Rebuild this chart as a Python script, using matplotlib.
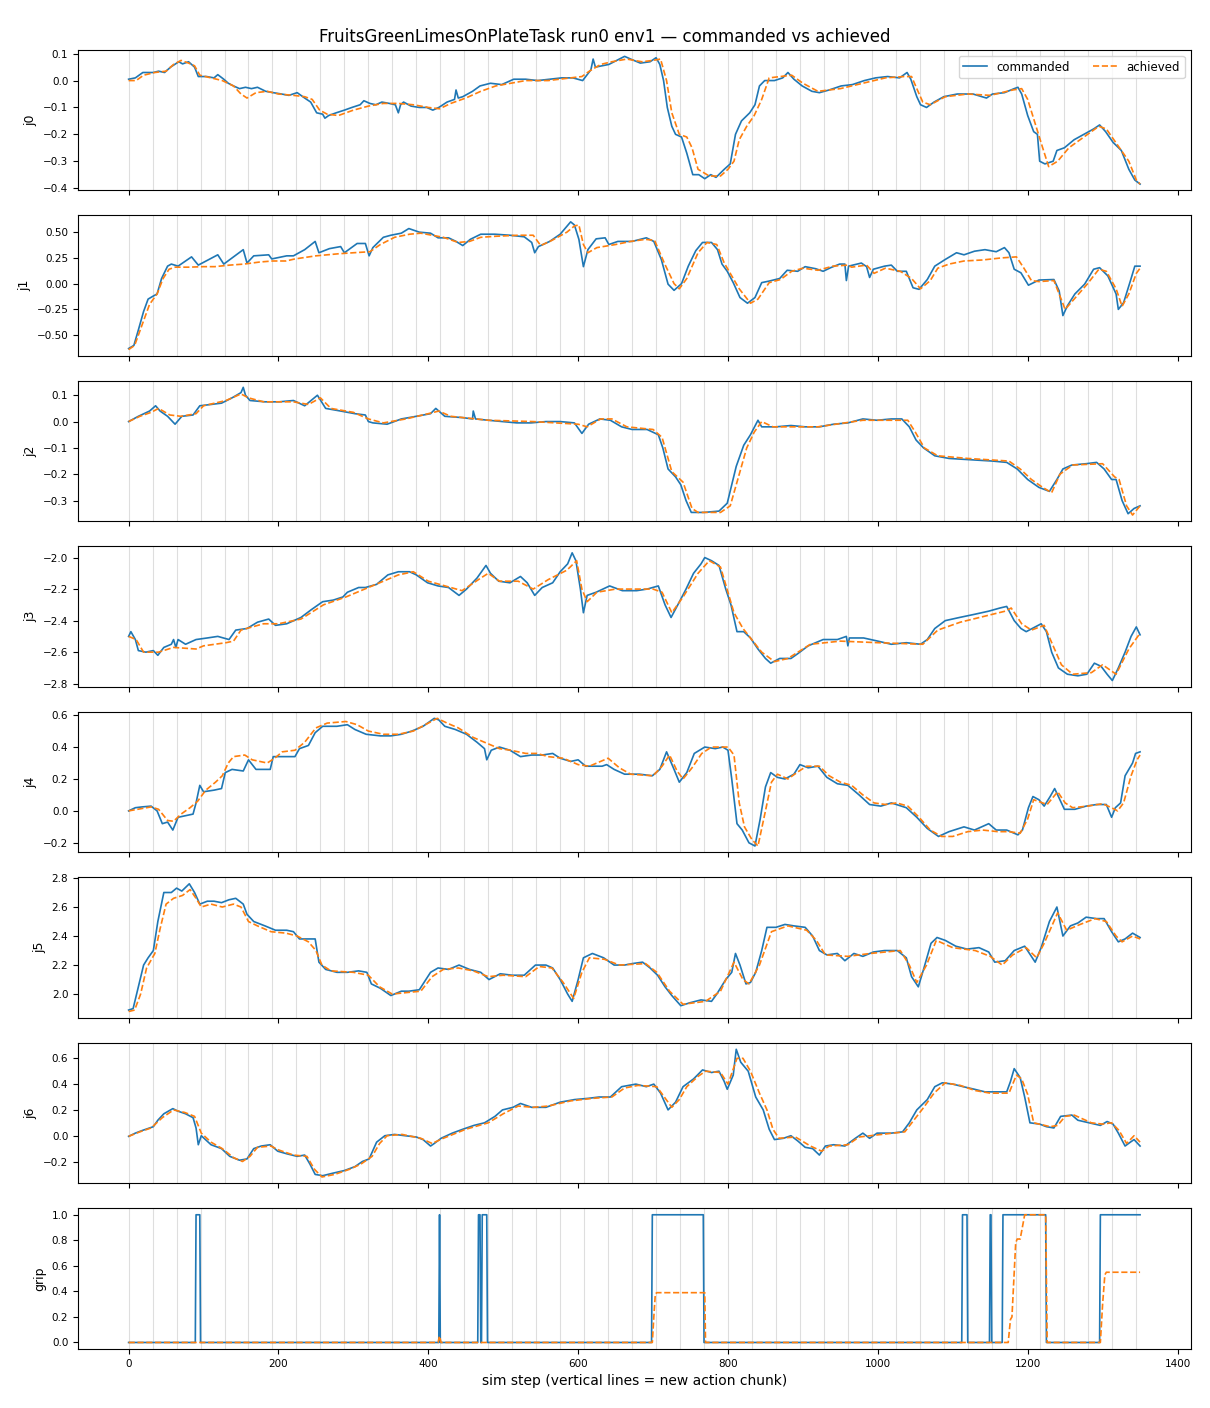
import matplotlib
matplotlib.use('Agg')
import matplotlib.pyplot as plt

# chunk boundaries every 32 sim steps
chunk = 32
n_steps = 1350

# (step, value) keypoints
j0_cmd = [(0, 0.005), (9, 0.01), (19, 0.03), (33, 0.03), (40, 0.035), (48, 0.03), (56, 0.05), (67, 0.07), (72, 0.062),
          (80, 0.07), (88, 0.05), (93, 0.015), (104, 0.015), (114, 0.01), (119, 0.022), (127, 0.005), (133, -0.01),
          (140, -0.02), (148, -0.03), (156, -0.025), (164, -0.03), (172, -0.025), (183, -0.04), (193, -0.045),
          (204, -0.05), (214, -0.055), (225, -0.045), (235, -0.065), (243, -0.08), (251, -0.12), (259, -0.125),
          (262, -0.14), (267, -0.13), (277, -0.12), (288, -0.11), (298, -0.1), (309, -0.09), (314, -0.075),
          (322, -0.085), (330, -0.09), (338, -0.08), (348, -0.085), (356, -0.09), (360, -0.12), (363, -0.09),
          (367, -0.08), (377, -0.095), (388, -0.1), (398, -0.1), (406, -0.11), (414, -0.1), (425, -0.08),
          (435, -0.07), (437, -0.035), (440, -0.065), (446, -0.06), (459, -0.04), (469, -0.02), (483, -0.01),
          (498, -0.015), (514, 0.005), (530, 0.005), (546, 0.0), (562, 0.005), (578, 0.01), (593, 0.01), (606, 0.0),
          (617, 0.04), (620, 0.08), (623, 0.05), (641, 0.06), (662, 0.09), (670, 0.08), (683, 0.065), (696, 0.07),
          (704, 0.085), (709, 0.06), (714, 0.0), (719, -0.1), (725, -0.17), (730, -0.2), (738, -0.21), (745, -0.27),
          (753, -0.35), (761, -0.35), (769, -0.365), (777, -0.35), (784, -0.36), (795, -0.33), (803, -0.31),
          (810, -0.2), (818, -0.15), (829, -0.12), (836, -0.09), (842, -0.02), (849, 0.0), (862, 0.0), (873, 0.01),
          (880, 0.03), (888, 0.005), (899, -0.02), (912, -0.04), (922, -0.045), (935, -0.035), (951, -0.02),
          (966, -0.015), (982, 0.0), (997, 0.01), (1013, 0.015), (1029, 0.01), (1039, 0.03), (1044, 0.005),
          (1052, -0.06), (1057, -0.09), (1065, -0.1), (1075, -0.08), (1088, -0.06), (1106, -0.05), (1127, -0.05),
          (1145, -0.065), (1153, -0.05), (1169, -0.045), (1182, -0.03), (1187, -0.025), (1192, -0.05),
          (1200, -0.13), (1208, -0.19), (1213, -0.2), (1216, -0.3), (1223, -0.31), (1234, -0.3), (1239, -0.26),
          (1249, -0.25), (1262, -0.22), (1275, -0.2), (1288, -0.18), (1296, -0.165), (1304, -0.19), (1314, -0.23),
          (1325, -0.26), (1335, -0.33), (1343, -0.37), (1350, -0.385)]
j0_ach = [(0, 0.0), (10, 0.0), (20, 0.02), (35, 0.03), (50, 0.035), (60, 0.06), (70, 0.075), (80, 0.065), (88, 0.055),
          (95, 0.02), (110, 0.01), (125, 0.0), (140, -0.02), (150, -0.05), (158, -0.065), (170, -0.045),
          (185, -0.04), (200, -0.05), (220, -0.055), (235, -0.06), (245, -0.07), (255, -0.11), (265, -0.125),
          (280, -0.13), (300, -0.11), (320, -0.095), (340, -0.085), (360, -0.085), (380, -0.09), (400, -0.1),
          (415, -0.105), (430, -0.085), (450, -0.065), (470, -0.04), (490, -0.02), (510, -0.01), (530, 0.0),
          (560, 0.0), (590, 0.01), (605, 0.015), (615, 0.035), (630, 0.06), (645, 0.07), (665, 0.08), (685, 0.07),
          (700, 0.075), (710, 0.08), (718, 0.0), (725, -0.12), (735, -0.2), (745, -0.21), (752, -0.25),
          (760, -0.33), (775, -0.355), (790, -0.355), (800, -0.33), (808, -0.3), (815, -0.22), (825, -0.17),
          (835, -0.13), (845, -0.07), (855, 0.01), (870, 0.015), (885, 0.02), (900, -0.01), (920, -0.04),
          (950, -0.03), (980, -0.01), (1010, 0.01), (1035, 0.015), (1045, 0.015), (1052, -0.03), (1060, -0.08),
          (1070, -0.09), (1090, -0.06), (1120, -0.05), (1150, -0.055), (1180, -0.035), (1192, -0.03),
          (1200, -0.07), (1210, -0.16), (1220, -0.25), (1228, -0.32), (1240, -0.3), (1255, -0.25), (1275, -0.21),
          (1295, -0.17), (1305, -0.18), (1320, -0.24), (1335, -0.3), (1345, -0.37), (1350, -0.385)]

j1_cmd = [(0, -0.63), (7, -0.6), (13, -0.45), (20, -0.27), (26, -0.15), (33, -0.12), (38, -0.1), (44, 0.05),
          (52, 0.17), (57, 0.19), (66, 0.17), (84, 0.26), (93, 0.18), (119, 0.28), (127, 0.19), (153, 0.33),
          (158, 0.2), (167, 0.27), (187, 0.28), (191, 0.24), (211, 0.27), (220, 0.27), (235, 0.33), (249, 0.41),
          (254, 0.3), (268, 0.34), (283, 0.36), (288, 0.3), (305, 0.39), (316, 0.39), (321, 0.27), (326, 0.35),
          (340, 0.45), (350, 0.47), (364, 0.49), (374, 0.535), (388, 0.5), (403, 0.49), (413, 0.445),
          (427, 0.445), (437, 0.41), (446, 0.37), (456, 0.43), (470, 0.48), (489, 0.48), (509, 0.47),
          (528, 0.455), (538, 0.4), (542, 0.3), (547, 0.36), (562, 0.41), (576, 0.48), (590, 0.6), (595, 0.57),
          (601, 0.43), (607, 0.165), (613, 0.33), (624, 0.435), (636, 0.445), (641, 0.38), (653, 0.41),
          (672, 0.41), (691, 0.445), (701, 0.41), (711, 0.235), (720, -0.005), (728, -0.065), (738, 0.0),
          (747, 0.17), (757, 0.32), (766, 0.4), (778, 0.4), (786, 0.33), (792, 0.19), (799, 0.12), (807, 0.01),
          (816, -0.135), (826, -0.19), (836, -0.135), (845, 0.01), (855, 0.025), (869, 0.05), (879, 0.13),
          (893, 0.12), (903, 0.165), (917, 0.145), (927, 0.12), (937, 0.155), (949, 0.19), (956, 0.19),
          (958, 0.03), (961, 0.17), (978, 0.2), (985, 0.165), (989, 0.06), (994, 0.14), (1009, 0.17),
          (1018, 0.18), (1026, 0.12), (1038, 0.12), (1047, -0.04), (1055, -0.055), (1066, 0.04), (1076, 0.17),
          (1090, 0.235), (1105, 0.3), (1115, 0.28), (1129, 0.315), (1143, 0.33), (1158, 0.31), (1169, 0.35),
          (1175, 0.3), (1182, 0.14), (1191, 0.105), (1201, -0.015), (1215, 0.035), (1235, 0.04), (1242, -0.07),
          (1247, -0.31), (1253, -0.215), (1263, -0.1), (1276, -0.005), (1288, 0.14), (1296, 0.155),
          (1307, 0.075), (1318, -0.1), (1321, -0.25), (1328, -0.185), (1337, 0.025), (1343, 0.17), (1350, 0.17)]
j1_ach = [(0, -0.64), (8, -0.6), (18, -0.4), (28, -0.2), (38, -0.1), (46, 0.05), (54, 0.14), (62, 0.16), (80, 0.16),
          (100, 0.165), (115, 0.165), (135, 0.18), (154, 0.19), (175, 0.21), (192, 0.22), (210, 0.22),
          (222, 0.24), (250, 0.27), (280, 0.29), (300, 0.3), (322, 0.31), (336, 0.38), (355, 0.45), (375, 0.48),
          (390, 0.49), (405, 0.47), (420, 0.45), (440, 0.4), (455, 0.41), (470, 0.45), (490, 0.46), (520, 0.47),
          (540, 0.47), (550, 0.37), (565, 0.42), (585, 0.5), (595, 0.56), (601, 0.57), (607, 0.38), (613, 0.3),
          (625, 0.35), (650, 0.38), (670, 0.41), (690, 0.43), (702, 0.42), (715, 0.2), (728, 0.0), (735, -0.05),
          (745, 0.05), (760, 0.3), (772, 0.4), (785, 0.38), (795, 0.2), (803, 0.1), (815, -0.05), (830, -0.19),
          (840, -0.15), (855, 0.01), (870, 0.04), (885, 0.12), (900, 0.15), (920, 0.13), (940, 0.17),
          (960, 0.18), (965, 0.16), (985, 0.18), (995, 0.1), (1010, 0.15), (1030, 0.12), (1045, 0.05),
          (1057, -0.05), (1070, 0.03), (1080, 0.15), (1095, 0.19), (1115, 0.22), (1140, 0.23), (1165, 0.25),
          (1185, 0.26), (1195, 0.15), (1205, 0.03), (1215, 0.02), (1235, 0.03), (1250, -0.25), (1262, -0.15),
          (1280, 0.0), (1295, 0.14), (1305, 0.12), (1318, -0.05), (1326, -0.22), (1335, -0.1), (1345, 0.1),
          (1350, 0.15)]

j2_cmd = [(0, 0.0), (13, 0.02), (28, 0.04), (36, 0.06), (42, 0.04), (52, 0.02), (62, -0.01), (71, 0.02), (86, 0.025),
          (95, 0.06), (110, 0.065), (124, 0.07), (138, 0.09), (150, 0.11), (153, 0.13), (156, 0.1), (162, 0.08),
          (182, 0.075), (201, 0.075), (220, 0.08), (235, 0.06), (252, 0.1), (263, 0.05), (283, 0.04), (302, 0.03),
          (316, 0.025), (320, 0.0), (326, -0.005), (345, -0.01), (364, 0.01), (384, 0.02), (403, 0.03),
          (410, 0.05), (422, 0.02), (446, 0.015), (459, 0.01), (460, 0.04), (463, 0.01), (480, 0.005), (499, 0.0),
          (518, -0.005), (537, -0.005), (557, 0.0), (576, 0.0), (595, -0.005), (605, -0.045), (614, -0.01),
          (629, 0.01), (643, 0.005), (658, -0.02), (672, -0.03), (692, -0.03), (707, -0.05), (713, -0.1),
          (720, -0.18), (730, -0.21), (737, -0.24), (744, -0.3), (751, -0.345), (768, -0.345), (788, -0.34),
          (799, -0.31), (811, -0.17), (821, -0.09), (830, -0.05), (840, 0.005), (845, -0.02), (864, -0.02),
          (884, -0.015), (903, -0.02), (922, -0.02), (941, -0.01), (960, -0.005), (980, 0.01), (999, 0.005),
          (1018, 0.01), (1032, 0.01), (1042, -0.02), (1051, -0.07), (1061, -0.1), (1076, -0.13), (1095, -0.14),
          (1124, -0.145), (1153, -0.15), (1172, -0.155), (1186, -0.18), (1200, -0.22), (1215, -0.25),
          (1229, -0.265), (1239, -0.22), (1247, -0.18), (1259, -0.165), (1278, -0.16), (1292, -0.155),
          (1302, -0.18), (1312, -0.22), (1318, -0.22), (1326, -0.3), (1334, -0.35), (1342, -0.33), (1350, -0.32)]
j2_ach = [(0, 0.0), (15, 0.02), (30, 0.035), (40, 0.05), (55, 0.025), (70, 0.02), (90, 0.03), (100, 0.06), (130, 0.08),
          (150, 0.105), (160, 0.09), (180, 0.075), (220, 0.075), (240, 0.065), (256, 0.09), (270, 0.05),
          (300, 0.035), (320, 0.01), (340, -0.005), (370, 0.01), (400, 0.03), (414, 0.04), (430, 0.02),
          (480, 0.005), (540, 0.0), (600, -0.01), (612, -0.02), (630, 0.01), (645, 0.01), (665, -0.02),
          (700, -0.03), (712, -0.06), (725, -0.19), (740, -0.23), (752, -0.33), (760, -0.345), (790, -0.345),
          (803, -0.32), (815, -0.2), (825, -0.1), (835, -0.04), (845, 0.0), (860, -0.02), (920, -0.02),
          (980, 0.005), (1040, 0.005), (1050, -0.04), (1062, -0.1), (1080, -0.13), (1120, -0.14), (1175, -0.15),
          (1190, -0.18), (1205, -0.22), (1220, -0.25), (1232, -0.27), (1243, -0.2), (1260, -0.165), (1300, -0.16),
          (1316, -0.21), (1322, -0.22), (1332, -0.32), (1340, -0.355), (1350, -0.32)]

j3_cmd = [(0, -2.5), (3, -2.47), (9, -2.52), (13, -2.59), (23, -2.6), (33, -2.59), (39, -2.62), (47, -2.57),
          (57, -2.55), (60, -2.52), (63, -2.57), (66, -2.52), (76, -2.55), (90, -2.52), (105, -2.51), (119, -2.5),
          (134, -2.52), (143, -2.46), (158, -2.45), (172, -2.41), (187, -2.39), (196, -2.43), (211, -2.42),
          (230, -2.38), (244, -2.33), (259, -2.28), (273, -2.27), (286, -2.25), (292, -2.22), (307, -2.19),
          (316, -2.19), (331, -2.17), (346, -2.11), (360, -2.09), (375, -2.09), (384, -2.11), (399, -2.16),
          (413, -2.18), (427, -2.19), (441, -2.24), (451, -2.2), (465, -2.13), (477, -2.05), (483, -2.1),
          (494, -2.15), (509, -2.16), (523, -2.12), (532, -2.16), (542, -2.24), (552, -2.19), (566, -2.16),
          (576, -2.09), (586, -2.04), (592, -1.97), (597, -2.02), (603, -2.2), (607, -2.35), (612, -2.24),
          (624, -2.22), (642, -2.18), (659, -2.21), (678, -2.21), (692, -2.2), (707, -2.18), (716, -2.3),
          (724, -2.38), (733, -2.3), (744, -2.2), (754, -2.1), (764, -2.04), (769, -2.0), (778, -2.02),
          (788, -2.05), (797, -2.2), (804, -2.3), (812, -2.47), (821, -2.47), (830, -2.51), (840, -2.58),
          (850, -2.64), (857, -2.67), (869, -2.64), (884, -2.64), (893, -2.61), (907, -2.56), (927, -2.52),
          (946, -2.52), (958, -2.5), (960, -2.56), (962, -2.51), (981, -2.51), (1000, -2.53), (1018, -2.55),
          (1038, -2.54), (1057, -2.55), (1066, -2.52), (1076, -2.45), (1090, -2.4), (1109, -2.38), (1129, -2.36),
          (1148, -2.34), (1163, -2.32), (1172, -2.31), (1182, -2.4), (1191, -2.45), (1198, -2.47), (1206, -2.45),
          (1218, -2.42), (1225, -2.47), (1232, -2.6), (1241, -2.7), (1253, -2.74), (1267, -2.75), (1279, -2.74),
          (1289, -2.67), (1298, -2.69), (1306, -2.74), (1313, -2.78), (1321, -2.7), (1330, -2.6), (1338, -2.5),
          (1345, -2.44), (1350, -2.49)]
j3_ach = [(0, -2.5), (10, -2.52), (20, -2.6), (40, -2.6), (60, -2.57), (90, -2.58), (100, -2.56), (130, -2.54),
          (140, -2.53), (150, -2.46), (180, -2.42), (200, -2.42), (230, -2.39), (260, -2.3), (290, -2.25),
          (320, -2.19), (360, -2.11), (380, -2.09), (400, -2.15), (430, -2.19), (445, -2.21), (470, -2.13),
          (480, -2.1), (495, -2.15), (520, -2.15), (540, -2.2), (560, -2.14), (585, -2.08), (598, -2.02),
          (605, -2.2), (612, -2.28), (625, -2.22), (650, -2.2), (700, -2.2), (712, -2.22), (725, -2.35),
          (740, -2.25), (760, -2.1), (775, -2.02), (790, -2.06), (808, -2.35), (820, -2.45), (845, -2.6),
          (862, -2.66), (880, -2.64), (910, -2.55), (950, -2.53), (1000, -2.54), (1060, -2.55), (1080, -2.46),
          (1110, -2.41), (1170, -2.34), (1178, -2.32), (1192, -2.42), (1205, -2.46), (1222, -2.43), (1245, -2.68),
          (1260, -2.74), (1285, -2.73), (1300, -2.68), (1318, -2.74), (1335, -2.58), (1350, -2.48)]

j4_cmd = [(0, 0.0), (9, 0.02), (18, 0.025), (30, 0.03), (38, 0.0), (45, -0.08), (52, -0.07), (59, -0.12), (66, -0.04),
          (76, -0.03), (86, -0.02), (90, 0.05), (95, 0.16), (100, 0.12), (114, 0.13), (124, 0.14), (129, 0.24),
          (138, 0.26), (153, 0.25), (160, 0.32), (170, 0.26), (189, 0.26), (193, 0.34), (211, 0.34), (222, 0.34),
          (228, 0.39), (240, 0.41), (249, 0.49), (259, 0.53), (278, 0.53), (292, 0.54), (302, 0.51), (317, 0.48),
          (336, 0.47), (350, 0.47), (364, 0.48), (378, 0.5), (393, 0.53), (408, 0.58), (414, 0.57), (422, 0.53),
          (436, 0.51), (451, 0.48), (465, 0.43), (475, 0.39), (478, 0.32), (484, 0.38), (495, 0.4), (509, 0.38),
          (523, 0.34), (538, 0.35), (552, 0.35), (566, 0.36), (576, 0.33), (590, 0.31), (600, 0.32), (610, 0.28),
          (632, 0.28), (638, 0.29), (648, 0.26), (662, 0.23), (682, 0.23), (699, 0.22), (709, 0.26), (718, 0.37),
          (728, 0.26), (735, 0.18), (745, 0.24), (755, 0.36), (769, 0.4), (783, 0.39), (793, 0.4), (800, 0.38),
          (805, 0.2), (812, -0.08), (819, -0.12), (828, -0.2), (836, -0.22), (843, -0.05), (850, 0.15),
          (857, 0.24), (866, 0.21), (876, 0.2), (888, 0.23), (896, 0.29), (907, 0.27), (920, 0.28), (932, 0.21),
          (946, 0.17), (960, 0.16), (975, 0.1), (989, 0.04), (1004, 0.03), (1018, 0.05), (1038, 0.02),
          (1052, -0.04), (1066, -0.11), (1081, -0.16), (1095, -0.13), (1115, -0.1), (1129, -0.12), (1148, -0.08),
          (1158, -0.12), (1172, -0.12), (1187, -0.15), (1193, -0.12), (1201, 0.02), (1207, 0.09), (1215, 0.07),
          (1222, 0.03), (1230, 0.09), (1236, 0.14), (1244, 0.06), (1249, 0.01), (1263, 0.01), (1278, 0.03),
          (1292, 0.04), (1305, 0.04), (1312, -0.04), (1317, 0.02), (1324, 0.05), (1330, 0.22), (1340, 0.3),
          (1344, 0.36), (1350, 0.37)]
j4_ach = [(0, 0.0), (30, 0.025), (40, 0.01), (52, -0.06), (60, -0.065), (70, -0.02), (82, 0.02), (92, 0.06),
          (103, 0.13), (116, 0.18), (125, 0.22), (133, 0.3), (140, 0.34), (155, 0.35), (165, 0.32), (185, 0.3),
          (195, 0.33), (205, 0.37), (222, 0.38), (235, 0.43), (250, 0.52), (265, 0.55), (290, 0.56), (305, 0.54),
          (320, 0.5), (340, 0.48), (360, 0.48), (380, 0.5), (400, 0.55), (412, 0.58), (425, 0.55), (440, 0.52),
          (460, 0.46), (480, 0.42), (495, 0.39), (510, 0.38), (530, 0.36), (545, 0.36), (560, 0.34), (580, 0.33),
          (600, 0.29), (615, 0.28), (630, 0.31), (640, 0.33), (655, 0.27), (670, 0.23), (700, 0.22), (712, 0.28),
          (722, 0.35), (732, 0.25), (740, 0.2), (752, 0.27), (765, 0.36), (778, 0.4), (800, 0.4), (808, 0.35),
          (815, 0.05), (822, -0.1), (832, -0.18), (840, -0.22), (850, 0.0), (858, 0.18), (866, 0.23), (880, 0.2),
          (895, 0.25), (905, 0.28), (922, 0.28), (935, 0.22), (950, 0.18), (965, 0.16), (980, 0.1), (995, 0.05),
          (1010, 0.04), (1025, 0.05), (1040, 0.03), (1055, -0.04), (1070, -0.12), (1085, -0.16), (1100, -0.16),
          (1120, -0.13), (1140, -0.12), (1160, -0.13), (1175, -0.13), (1190, -0.14), (1200, -0.05), (1208, 0.07),
          (1220, 0.05), (1226, 0.04), (1240, 0.12), (1250, 0.05), (1260, 0.02), (1280, 0.03), (1300, 0.045),
          (1312, 0.02), (1320, 0.0), (1328, 0.05), (1338, 0.22), (1346, 0.32), (1350, 0.35)]

j5_cmd = [(0, 1.89), (6, 1.9), (13, 2.05), (20, 2.2), (26, 2.25), (33, 2.3), (39, 2.5), (47, 2.7), (57, 2.7),
          (64, 2.73), (71, 2.71), (81, 2.76), (88, 2.7), (95, 2.62), (105, 2.64), (114, 2.64), (124, 2.63),
          (134, 2.65), (143, 2.66), (153, 2.62), (158, 2.55), (167, 2.5), (182, 2.47), (196, 2.44), (211, 2.44),
          (220, 2.43), (228, 2.38), (240, 2.38), (249, 2.38), (254, 2.22), (263, 2.17), (278, 2.15), (292, 2.15),
          (307, 2.16), (318, 2.15), (324, 2.07), (336, 2.04), (350, 1.99), (364, 2.02), (374, 2.02), (388, 2.03),
          (403, 2.15), (413, 2.18), (427, 2.17), (441, 2.2), (455, 2.17), (470, 2.15), (481, 2.1), (496, 2.14),
          (512, 2.13), (528, 2.13), (543, 2.2), (557, 2.2), (566, 2.18), (576, 2.1), (586, 2.0), (592, 1.95),
          (600, 2.1), (607, 2.25), (619, 2.28), (634, 2.25), (648, 2.2), (662, 2.2), (672, 2.21), (686, 2.22),
          (696, 2.18), (706, 2.13), (716, 2.05), (725, 1.99), (737, 1.92), (749, 1.94), (764, 1.96), (778, 1.95),
          (785, 2.0), (797, 2.1), (805, 2.15), (810, 2.28), (816, 2.2), (824, 2.07), (830, 2.08), (837, 2.15),
          (845, 2.3), (852, 2.46), (864, 2.46), (876, 2.48), (888, 2.47), (903, 2.46), (913, 2.4), (922, 2.3),
          (932, 2.27), (946, 2.28), (956, 2.23), (968, 2.28), (980, 2.26), (994, 2.29), (1009, 2.3), (1026, 2.3),
          (1038, 2.25), (1045, 2.12), (1054, 2.05), (1061, 2.17), (1071, 2.35), (1079, 2.39), (1090, 2.37),
          (1104, 2.33), (1119, 2.31), (1135, 2.32), (1148, 2.29), (1156, 2.22), (1170, 2.23), (1182, 2.3),
          (1196, 2.33), (1210, 2.22), (1218, 2.32), (1229, 2.5), (1239, 2.6), (1247, 2.4), (1257, 2.47),
          (1267, 2.49), (1278, 2.53), (1292, 2.52), (1302, 2.52), (1312, 2.43), (1321, 2.36), (1330, 2.38),
          (1340, 2.42), (1350, 2.39)]
j5_ach = [(0, 1.88), (8, 1.89), (16, 2.0), (24, 2.18), (35, 2.28), (42, 2.45), (50, 2.62), (60, 2.66), (72, 2.68),
          (82, 2.72), (90, 2.66), (97, 2.6), (110, 2.62), (125, 2.6), (140, 2.62), (150, 2.6), (160, 2.5),
          (172, 2.47), (190, 2.43), (210, 2.42), (225, 2.4), (240, 2.36), (250, 2.3), (258, 2.2), (270, 2.16),
          (300, 2.15), (320, 2.13), (335, 2.05), (352, 2.0), (370, 2.01), (390, 2.02), (405, 2.12), (420, 2.17),
          (440, 2.18), (460, 2.16), (480, 2.12), (500, 2.13), (530, 2.12), (548, 2.19), (565, 2.18), (580, 2.08),
          (594, 1.97), (605, 2.15), (615, 2.25), (635, 2.24), (655, 2.2), (690, 2.21), (705, 2.15), (722, 2.02),
          (740, 1.93), (770, 1.95), (790, 2.02), (808, 2.22), (820, 2.1), (828, 2.07), (842, 2.2), (858, 2.43),
          (880, 2.47), (905, 2.44), (918, 2.37), (930, 2.27), (960, 2.26), (990, 2.28), (1030, 2.3), (1042, 2.2),
          (1052, 2.08), (1065, 2.2), (1078, 2.37), (1100, 2.32), (1130, 2.3), (1150, 2.26), (1166, 2.2),
          (1180, 2.27), (1198, 2.32), (1212, 2.25), (1222, 2.35), (1240, 2.56), (1252, 2.44), (1270, 2.48),
          (1290, 2.52), (1305, 2.5), (1318, 2.4), (1326, 2.36), (1340, 2.4), (1350, 2.38)]

j6_cmd = [(0, -0.005), (9, 0.02), (18, 0.04), (33, 0.07), (39, 0.12), (47, 0.17), (59, 0.21), (66, 0.19), (76, 0.17),
          (86, 0.14), (90, 0.06), (93, -0.07), (97, 0.0), (110, -0.07), (124, -0.1), (135, -0.16), (148, -0.19),
          (158, -0.18), (167, -0.1), (177, -0.08), (189, -0.07), (199, -0.12), (211, -0.14), (225, -0.16),
          (235, -0.15), (242, -0.22), (249, -0.3), (259, -0.31), (273, -0.29), (288, -0.27), (302, -0.24),
          (312, -0.2), (321, -0.18), (331, -0.05), (342, 0.0), (355, 0.01), (369, 0.0), (384, -0.01),
          (393, -0.03), (403, -0.08), (408, -0.06), (417, -0.02), (432, 0.02), (446, 0.05), (461, 0.08),
          (475, 0.1), (489, 0.15), (499, 0.2), (513, 0.22), (523, 0.25), (538, 0.22), (557, 0.22), (576, 0.26),
          (595, 0.28), (614, 0.29), (628, 0.3), (643, 0.3), (658, 0.38), (677, 0.4), (691, 0.38), (701, 0.4),
          (710, 0.33), (720, 0.2), (730, 0.26), (740, 0.38), (754, 0.44), (766, 0.51), (778, 0.49), (788, 0.5),
          (795, 0.42), (799, 0.36), (807, 0.47), (811, 0.67), (817, 0.57), (827, 0.5), (837, 0.3), (847, 0.2),
          (855, 0.05), (862, -0.03), (874, -0.02), (884, 0.0), (893, -0.04), (903, -0.09), (913, -0.1),
          (922, -0.15), (930, -0.08), (941, -0.07), (956, -0.08), (970, -0.02), (980, 0.02), (989, -0.02),
          (999, 0.02), (1018, 0.02), (1033, 0.03), (1042, 0.1), (1052, 0.2), (1066, 0.28), (1076, 0.38),
          (1086, 0.41), (1100, 0.4), (1114, 0.38), (1129, 0.36), (1143, 0.34), (1158, 0.34), (1172, 0.34),
          (1177, 0.42), (1182, 0.52), (1190, 0.45), (1196, 0.3), (1203, 0.1), (1216, 0.09), (1225, 0.07),
          (1235, 0.06), (1244, 0.15), (1259, 0.16), (1267, 0.12), (1282, 0.1), (1297, 0.08), (1306, 0.11),
          (1314, 0.09), (1321, 0.02), (1330, -0.08), (1337, -0.05), (1342, -0.03), (1350, -0.08)]
j6_ach = [(0, -0.005), (15, 0.03), (30, 0.06), (45, 0.14), (60, 0.2), (75, 0.18), (88, 0.15), (97, 0.02), (110, -0.05),
          (125, -0.1), (140, -0.17), (152, -0.2), (162, -0.16), (172, -0.09), (190, -0.08), (200, -0.11),
          (220, -0.15), (238, -0.16), (248, -0.26), (258, -0.32), (275, -0.3), (295, -0.26), (310, -0.22),
          (325, -0.16), (335, -0.06), (345, 0.0), (365, 0.01), (390, -0.02), (405, -0.06), (420, -0.02),
          (450, 0.05), (480, 0.1), (500, 0.17), (520, 0.23), (540, 0.22), (560, 0.23), (590, 0.27), (620, 0.29),
          (645, 0.3), (662, 0.37), (680, 0.39), (705, 0.38), (715, 0.3), (725, 0.22), (735, 0.28), (745, 0.38),
          (760, 0.46), (770, 0.5), (790, 0.49), (800, 0.4), (812, 0.6), (820, 0.6), (830, 0.5), (842, 0.33),
          (852, 0.2), (860, 0.05), (868, -0.02), (890, -0.01), (910, -0.08), (925, -0.12), (935, -0.08),
          (960, -0.07), (975, -0.01), (990, 0.0), (1020, 0.02), (1036, 0.03), (1048, 0.12), (1060, 0.21),
          (1075, 0.33), (1090, 0.41), (1110, 0.39), (1130, 0.35), (1150, 0.33), (1175, 0.33), (1185, 0.47),
          (1192, 0.44), (1200, 0.32), (1208, 0.1), (1230, 0.07), (1240, 0.08), (1250, 0.15), (1262, 0.16),
          (1285, 0.1), (1300, 0.09), (1312, 0.1), (1322, 0.04), (1332, -0.06), (1342, 0.0), (1350, -0.05)]

grip_cmd = [(0, 0), (89, 0), (90, 1), (95, 1), (96, 0), (414, 0), (415, 1), (416, 0), (466, 0), (467, 1), (469, 1),
            (470, 0), (471, 0), (472, 1), (478, 1), (479, 0), (698, 0), (699, 1), (767, 1), (768, 0), (1112, 0),
            (1113, 1), (1119, 1), (1120, 0), (1149, 0), (1150, 1), (1151, 1), (1152, 0), (1166, 0), (1167, 1),
            (1224, 1), (1225, 0), (1296, 0), (1297, 1), (1350, 1)]
grip_ach = [(0, 0), (413, 0), (415, 0.05), (417, 0), (699, 0), (701, 0.2), (703, 0.38), (705, 0.39), (769, 0.39),
            (770, 0), (1174, 0), (1177, 0.18), (1179, 0.2), (1184, 0.78), (1186, 0.81), (1190, 0.81), (1196, 1.0),
            (1224, 1.0), (1226, 0), (1297, 0), (1300, 0.3), (1303, 0.53), (1305, 0.55), (1350, 0.55)]

names = ['j0', 'j1', 'j2', 'j3', 'j4', 'j5', 'j6', 'grip']
commanded = [j0_cmd, j1_cmd, j2_cmd, j3_cmd, j4_cmd, j5_cmd, j6_cmd, grip_cmd]
achieved = [j0_ach, j1_ach, j2_ach, j3_ach, j4_ach, j5_ach, j6_ach, grip_ach]

fig, axes = plt.subplots(8, 1, figsize=(12.1, 14.08), dpi=100, sharex=True)
fig.subplots_adjust(left=0.0645, right=0.984, top=0.9645, bottom=0.042, hspace=0.178)

for ax, name, cmd, ach in zip(axes, names, commanded, achieved):
    for s in range(0, n_steps, chunk):
        ax.axvline(s, color='0.87', lw=0.8, zorder=0)
    x, y = zip(*cmd)
    ax.plot(x, y, color='tab:blue', lw=1.2, label='commanded')
    x, y = zip(*ach)
    ax.plot(x, y, '--', color='tab:orange', lw=1.2, label='achieved')
    ax.set_ylabel(name, fontsize=9)
    ax.tick_params(labelsize=7.5)

axes[0].legend(loc='upper right', ncol=2, fontsize=8.5)
axes[-1].set_xlabel('sim step (vertical lines = new action chunk)', fontsize=10)
fig.suptitle('FruitsGreenLimesOnPlateTask run0 env1 \u2014 commanded vs achieved', fontsize=12, y=0.980)

fig.savefig('out.png', dpi=100)
